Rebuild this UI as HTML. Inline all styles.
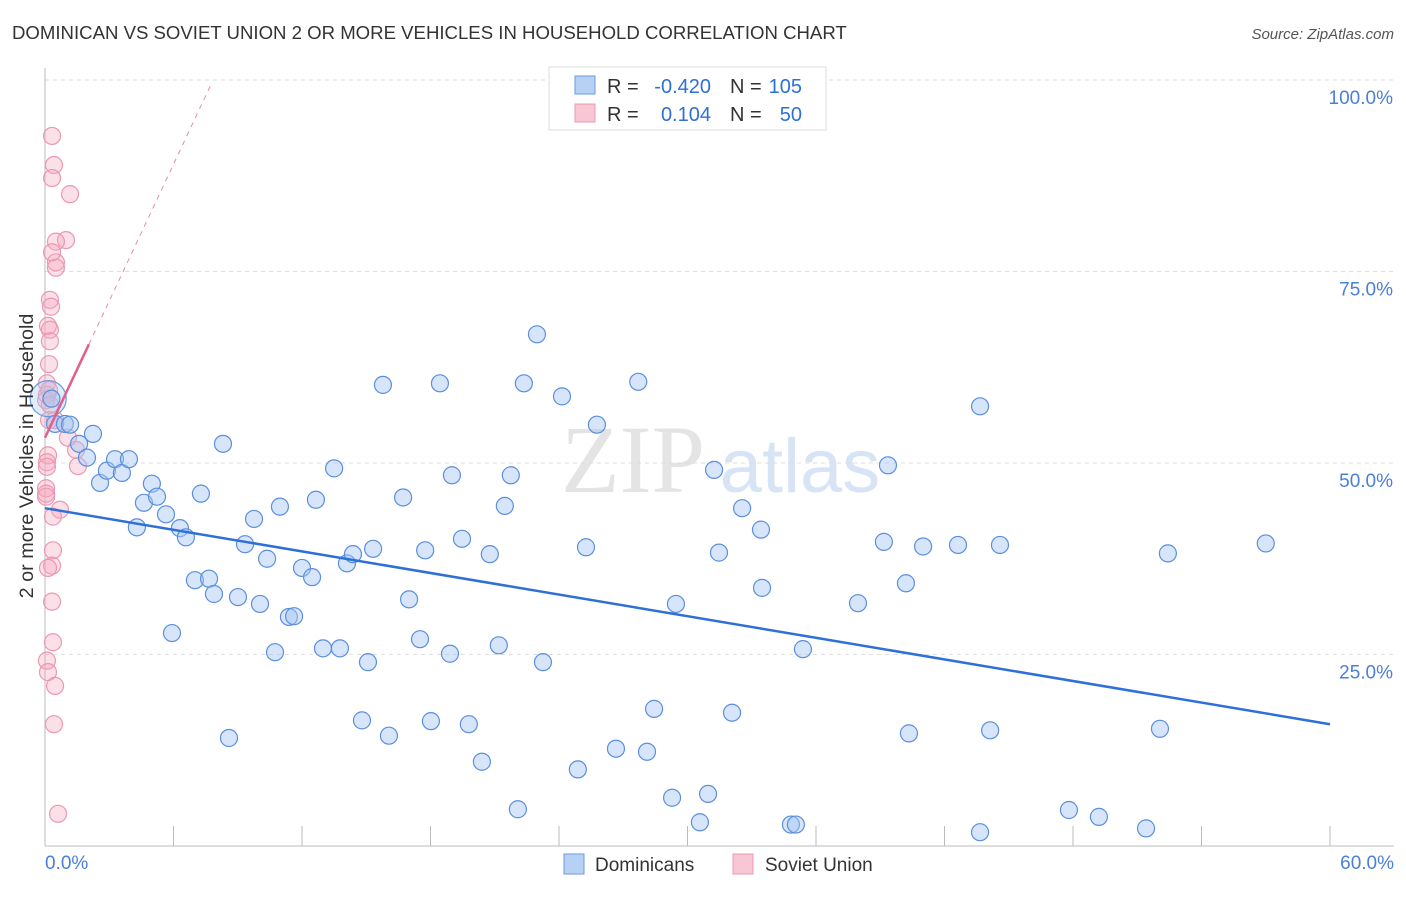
<!DOCTYPE html>
<html><head><meta charset="utf-8"><style>
body{margin:0;background:#fff;font-family:"Liberation Sans",sans-serif}
</style></head><body>
<svg id="c" width="1406" height="892" xmlns="http://www.w3.org/2000/svg">
<text x="12" y="39" font-size="18.6" fill="#333">DOMINICAN VS SOVIET UNION 2 OR MORE VEHICLES IN HOUSEHOLD CORRELATION CHART</text>
<text x="1394" y="39" font-size="15" fill="#555" font-style="italic" text-anchor="end">Source: ZipAtlas.com</text>
<text x="633" y="492" font-size="96" fill="#e4e4e4" font-family="Liberation Serif" text-anchor="middle">ZIP</text>
<text x="800" y="492" font-size="76" fill="#d6e4f5" text-anchor="middle">atlas</text>
<g id="grid"></g><g id="axes"></g><g id="pink"></g><g id="blue"></g><g id="trend"></g>
<text transform="translate(33,456) rotate(-90)" font-size="19.8" fill="#333" text-anchor="middle">2 or more Vehicles in Household</text>
<g font-size="20">
<rect x="549" y="67" width="277" height="63" fill="#fff" stroke="#ddd"/>
<rect x="575" y="76" width="20" height="18" fill="#b7d1f5" stroke="#6b9ae0"/>
<rect x="575" y="104" width="20" height="18" fill="#f9c6d6" stroke="#eb98b3"/>
<text x="607" y="93" fill="#333">R =</text>
<text x="711" y="93" fill="#2e6fd8" text-anchor="end">-0.420</text>
<text x="730" y="93" fill="#333">N =</text>
<text x="802" y="93" fill="#2e6fd8" text-anchor="end">105</text>
<text x="607" y="121" fill="#333">R =</text>
<text x="711" y="121" fill="#2e6fd8" text-anchor="end">0.104</text>
<text x="730" y="121" fill="#333">N =</text>
<text x="802" y="121" fill="#2e6fd8" text-anchor="end">50</text>
</g>
<g>
<rect x="564" y="854" width="20" height="20" fill="#b7d1f5" stroke="#6b9ae0"/>
<text x="595" y="871" font-size="19" fill="#333">Dominicans</text>
<rect x="733" y="854" width="20" height="20" fill="#f9c6d6" stroke="#eb98b3"/>
<text x="765" y="871" font-size="19" fill="#333">Soviet Union</text>
</g>
</svg>
<script>
const blueX=[0.3,0.47,0.93,1.17,1.59,1.96,2.24,2.57,2.89,3.27,3.59,3.92,4.29,4.62,4.99,5.23,5.65,5.93,6.3,6.58,7.0,7.28,7.66,7.89,8.31,8.59,9.01,9.34,9.76,10.04,10.37,10.74,10.97,11.39,11.63,12.0,12.47,12.65,12.98,13.5,13.77,14.1,14.38,15.08,14.8,15.32,15.78,16.06,16.72,17.0,17.51,17.75,18.02,18.44,18.91,19.0,19.47,19.79,20.4,20.77,21.19,21.47,21.75,22.08,22.36,22.97,23.25,24.14,24.88,25.26,25.77,26.66,28.11,28.44,29.28,29.46,30.58,30.96,31.24,31.47,32.08,32.55,33.43,33.48,34.83,35.06,35.39,37.96,39.17,39.36,40.2,40.34,41.0,42.63,43.66,44.13,44.59,47.81,49.21,51.41,52.06,52.43,57.0,43.66,27.7];
const blueY=[58.4,55.1,55.1,55.0,52.5,50.7,53.8,47.4,49.0,50.5,48.7,50.5,41.6,44.8,47.3,45.6,43.3,27.8,41.5,40.3,34.7,46.0,34.9,32.9,52.5,14.1,32.5,39.4,42.7,31.6,37.5,25.3,44.3,29.9,30.0,36.3,35.1,45.2,25.8,49.3,25.8,36.9,38.1,24.0,16.4,38.8,60.2,14.4,45.5,32.2,27.0,38.6,16.3,60.4,25.1,48.4,40.1,15.9,11.0,38.1,26.2,44.4,48.4,4.8,60.4,66.8,24.0,58.7,10.0,39.0,55.0,12.7,12.3,17.9,6.3,31.6,3.1,6.8,49.1,38.3,17.4,44.1,41.3,33.7,2.8,2.8,25.7,31.7,39.7,49.7,34.3,14.7,39.1,39.3,57.4,15.1,39.3,4.7,3.8,2.3,15.3,38.2,39.5,1.8,60.6];
const pinkX=[0.33,0.42,0.33,1.17,0.98,0.51,0.51,0.51,0.33,0.23,0.28,0.14,0.23,0.23,0.19,0.09,0.19,0.09,0.05,0.23,1.07,1.45,1.54,0.14,0.09,0.09,0.05,0.05,0.05,0.7,0.37,0.37,0.33,0.14,0.33,0.37,0.09,0.14,0.47,0.42,0.61,0.47,0.19];
const pinkY=[92.7,88.9,87.2,85.1,79.1,78.9,76.2,75.5,77.5,71.3,70.4,67.9,67.4,65.9,62.9,60.4,59.5,58.9,58.2,57.6,53.3,51.7,49.6,51.0,50.1,49.5,46.7,46.0,45.6,43.9,43.0,38.6,36.6,36.3,31.9,26.6,24.2,22.7,20.9,15.9,4.2,55.6,55.6];
const blueTrend=[44.1,15.9], pinkTrendSolid=[0,2.05], pinkTrendDash=7.8;
const yTicks=[25,50,75,100], yTickLabels=["25.0%","50.0%","75.0%","100.0%"];
const NS="http://www.w3.org/2000/svg";
const sx=v=>45+v/60*1285, sy=v=>846-v/100*766;
function mk(tag,attrs,parent){const e=document.createElementNS(NS,tag);for(const k in attrs)e.setAttribute(k,attrs[k]);document.getElementById(parent).appendChild(e);return e;}
yTicks.forEach((t,i)=>{
 const l=mk('line',{x1:45,x2:1394,y1:sy(t),y2:sy(t),stroke:'#ddd','stroke-dasharray':'4,4'},'grid');
 
 
 const tx=mk('text',{x:1393,y:sy(t)+24,'font-size':19,fill:'#4a7fd8','text-anchor':'end'},'grid');
 tx.textContent=yTickLabels[i];
 
 
});
const ax=mk('line',{x1:45,x2:45,y1:68,y2:846,stroke:'#bbb'},'axes');


const bx=mk('line',{x1:45,x2:1394,y1:846,y2:846,stroke:'#bbb'},'axes');


for(let i=0;i<=10;i++){const t=mk('line',{x1:sx(i*6),x2:sx(i*6),y1:826,y2:846,stroke:'#bbb'},'axes');
 
 }
[["0.0%",45,'start'],["60.0%",1394,'end']].forEach(a=>{const t=mk('text',{x:a[1],y:869,'font-size':19,fill:'#4a7fd8','text-anchor':a[2]},'axes');t.textContent=a[0];
 
 });
pinkX.forEach((x,i)=>{const c=mk('circle',{cx:sx(x),cy:sy(pinkY[i]),r:8.5,fill:'rgba(245,165,190,0.35)',stroke:'#eb98b3','stroke-width':1.2},'pink');
 
 });
const big=mk('circle',{cx:sx(0.15),cy:sy(58.4),r:18,fill:'rgba(170,200,240,0.35)',stroke:'#6b9ae0','stroke-width':1.2},'blue');


blueX.forEach((x,i)=>{const c=mk('circle',{cx:sx(x),cy:sy(blueY[i]),r:8.5,fill:'rgba(165,198,242,0.45)',stroke:'#5b8fde','stroke-width':1.2},'blue');
 
 });
const bt=mk('line',{x1:sx(0),y1:sy(blueTrend[0]),x2:sx(60),y2:sy(blueTrend[1]),stroke:'#2e6fd8','stroke-width':2.5},'trend');


const pk=x=>53.3+x*5.95;
const pd=mk('line',{x1:sx(pinkTrendSolid[1]),y1:sy(pk(pinkTrendSolid[1])),x2:sx(pinkTrendDash),y2:sy(pk(pinkTrendDash)),stroke:'#e98aa8','stroke-width':1,'stroke-dasharray':'5,5'},'trend');


const ps=mk('line',{x1:sx(pinkTrendSolid[0]),y1:sy(pk(pinkTrendSolid[0])),x2:sx(pinkTrendSolid[1]),y2:sy(pk(pinkTrendSolid[1])),stroke:'#e0608a','stroke-width':2.5},'trend');


</script>
</body></html>
